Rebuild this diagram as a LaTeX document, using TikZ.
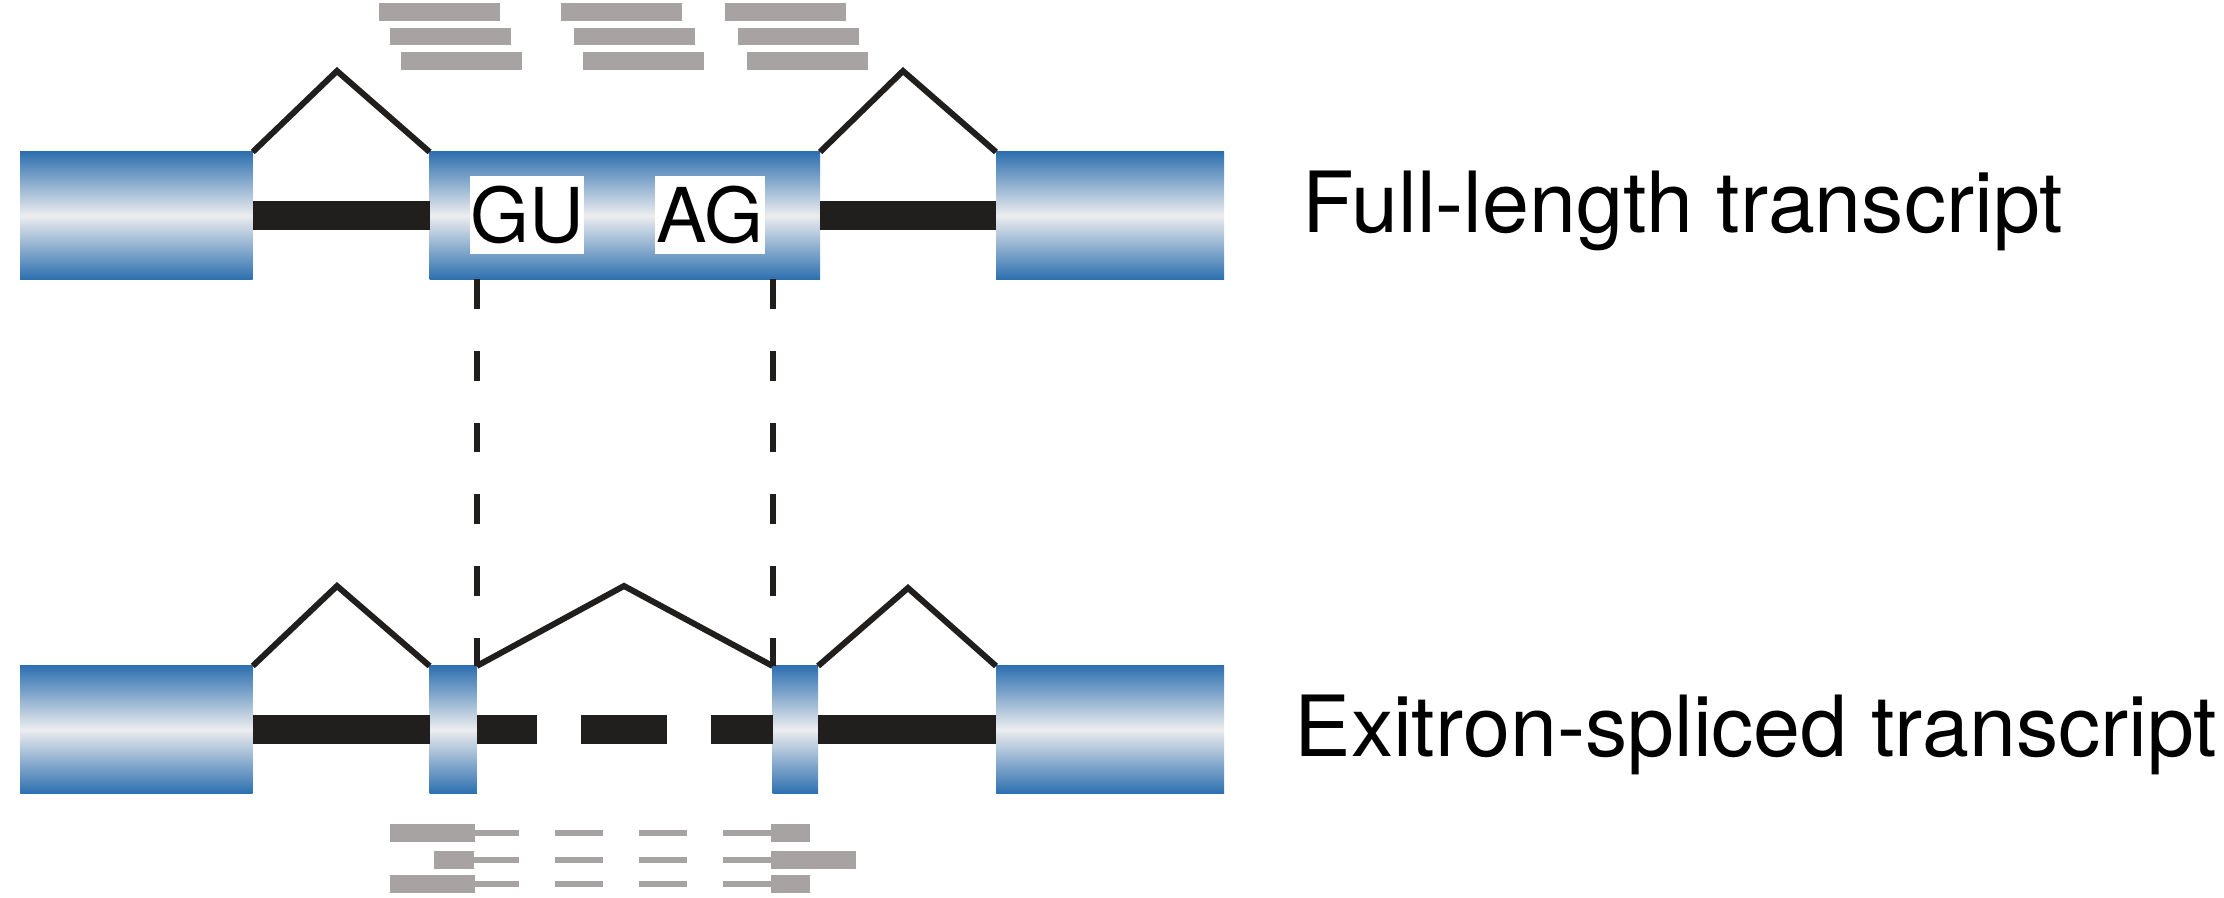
\documentclass[tikz,border=0pt]{standalone}
\usepackage{fontspec}
\setmainfont{TeX Gyre Heros}
\usepackage{tikz}
\usepackage{xcolor}
\usetikzlibrary{arrows.meta}

\definecolor{exonblue}{RGB}{46,112,176}
\definecolor{exonlight}{RGB}{236,237,238}
\definecolor{readgray}{RGB}{166,163,162}
\definecolor{intronblack}{RGB}{32,31,30}

\tikzset{
  intron/.style={draw=intronblack, line width=8.5pt},
  splice/.style={draw=intronblack, line width=1.7pt},
  dashline/.style={draw=intronblack, line width=1.7pt, dash pattern=on 8.5pt off 11.9pt},
  read/.style={fill=readgray},
  site/.style={fill=white, inner sep=0pt, minimum width=1.1cm, minimum height=0.78cm,
               font=\fontsize{21.5}{24}\selectfont},
  label/.style={anchor=base west, inner sep=0pt, font=\fontsize{24}{28}\selectfont}
}

\begin{document}
\begin{tikzpicture}[x=0.01cm, y=-0.01cm]
                \useasboundingbox (0,0) rectangle (2224,898);

                % exons
                \begin{scope}[every node/.style = {rectangle, inner sep=0pt, outer sep=0pt,
                                anchor=north west, minimum height=1.27cm,
                                top color=exonblue, bottom color=exonblue, middle color=exonlight}]
                    \node[minimum width=2.326cm] (E1) at (20, 152)    {};
                    \node[minimum width=3.902cm] (E2) at (429.6, 152) {};
                    \node[minimum width=2.28cm]  (E3) at (996, 152)   {};

                    \node[minimum width=2.326cm] (B1) at (20, 666)    {};
                    \node[minimum width=0.472cm] (B2) at (429.6, 666) {};
                    \node[minimum width=0.455cm] (B3) at (772.6, 666) {};
                    \node[minimum width=2.28cm]  (B4) at (996, 666)   {};
                \end{scope}

                \coordinate (P1) at (337, 71);
                \coordinate (P2) at (903, 71);
                \coordinate (Q1) at (337, 586);
                \coordinate (Q2) at (624, 586);
                \coordinate (Q3) at (908, 588);

                % introns
                \draw[intron] (E1.east) -- (E2.west);
                \draw[intron] (E2.east) -- (E3.west);
                \draw[intron] (B1.east) -- (B2.west);
                \draw[intron, dash pattern=on 17pt off 12.5pt on 24.7pt off 12.5pt on 20pt] (B2.east) -- (B3.west);
                \draw[intron] (B3.east) -- (B4.west);

                % splicing
                \draw[splice] (E1.north east) -- (P1) -- (E2.north west);
                \draw[splice] (E2.north east) -- (P2) -- (E3.north west);
                \draw[splice] (B1.north east) -- (Q1) -- (B2.north west);
                \draw[splice] (B2.north east) -- (Q2) -- (B3.north west);
                \draw[splice] (B3.north east) -- (Q3) -- (B4.north west);

                \draw[dashline] (B2.north east |- E2.south) -- (B2.north east);
                \draw[dashline] (B3.north west |- E2.south) -- (B3.north west);

                \node[site] (GU) at (527, 215) {GU};
                \node[site] (AG) at (710, 215) {AG};

                % reads
                \foreach \x/\y in {379/3.5, 390/28, 401/52.5, 561/3.5, 574/28, 583/52.5, 725/3.5, 738/28, 747/52.5}
                    \fill[read] (\x, \y) rectangle ++(121, 17.5);

                \foreach \y/\la/\lb/\rb in {833/390/475/810, 860/434/474/856, 884/390/475/810} {
                    \fill[read] (\la, \y-9) rectangle (\lb, \y+9);
                    \fill[read] (771, \y-9) rectangle (\rb, \y+9);
                    \foreach \sa/\sb in {\lb/519, 555/603, 639/687, 723/771}
                        \fill[read] (\sa, \y-2.8) rectangle (\sb, \y+2.8);
                }

                \node[label] (Lfull) at (1302, 233) {Full-length transcript};
                \node[label] (Lexit) at (1294, 757) {Exitron-spliced transcript};
            \end{tikzpicture}
\end{document}
